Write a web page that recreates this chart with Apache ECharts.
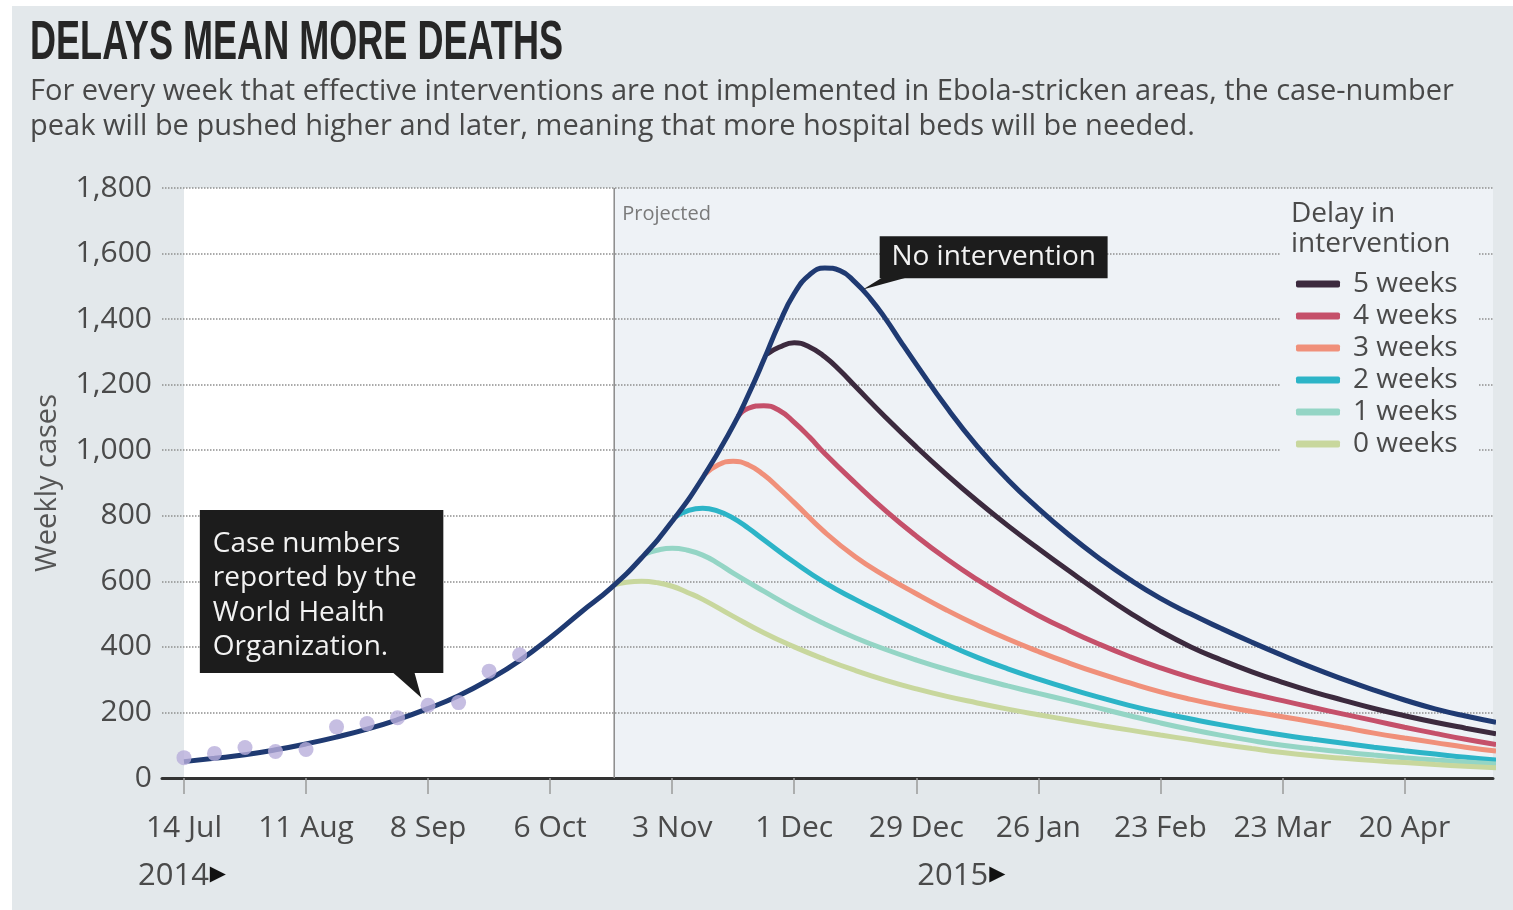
<!DOCTYPE html>
<html>
<head>
<meta charset="utf-8">
<title>Delays mean more deaths</title>
<script src="https://cdn.jsdelivr.net/npm/echarts@6.0.0/dist/echarts.min.js"></script>
<style>
  html, body { margin: 0; padding: 0; background: #fff; }
  #frame { position: absolute; left: 12px; top: 6px; right: 0; bottom: 0; background: #e3e8eb; }
  #chart { position: absolute; left: 0; top: 0; width: 1513px; height: 910px; }
</style>
</head>
<body>
<div id="frame"></div>
<div id="chart"></div>
<script>
// weeks counted from 14 Jul 2014
const labelWeeks = [0, 4, 8, 12, 16, 20, 24, 28, 32, 36, 40]
const weekLabels = ['14 Jul', '11 Aug', '8 Sep', '6 Oct', '3 Nov', '1 Dec', '29 Dec', '26 Jan', '23 Feb', '23 Mar', '20 Apr']

// WHO reported weekly cases
const whoWeeks = [0, 1, 2, 3, 4, 5, 6, 7, 8, 9, 10, 11]
const whoCases = [62, 75, 93, 81, 87, 156, 166, 184, 222, 230, 326, 376]

// week positions from a given week up to the end of the chart
function weeksFrom(w) {
  const out = []
  for (let i = w; i <= 43; i++) out.push(i)
  return out
}

// model, no intervention (read every week, every half week around the peak)
const noInterventionWeeks = [0, 1, 2, 3, 4, 5, 6, 7, 8, 9, 10, 11, 12, 13, 14, 15, 16, 17,
  18, 18.5, 19, 19.5, 20, 20.5, 21, 21.5, 22, 22.5, 23, 23.5].concat(weeksFrom(24))
const noIntervention = [50, 60, 71, 86, 104, 125, 149, 178, 212, 251, 300, 358, 428, 505, 580, 672, 783, 916,
  1075, 1170, 1275, 1385, 1478, 1535, 1556, 1548, 1512, 1462, 1400, 1330,
  1262, 1130, 1012, 910, 822, 742, 670, 605, 548, 500, 456, 414, 374, 336, 301, 268, 238, 211, 189, 170]

// delays in intervention: each curve starts where it leaves the no-intervention line
// (half weeks around the peak, whole weeks after)
const delayNames = ['5 weeks', '4 weeks', '3 weeks', '2 weeks', '1 weeks', '0 weeks']
const delay5Weeks = [19.1, 19.5, 20, 20.5, 21, 21.5].concat(weeksFrom(22))
const delay5 = [1293, 1314, 1328, 1315, 1285, 1243, 1195, 1100, 1010, 925, 845, 770, 700, 632, 566, 504,
  448, 400, 360, 324, 292, 263, 237, 212, 190, 170, 152, 135]
const delay4Weeks = [18.15, 18.5, 19, 19.5, 20, 20.5].concat(weeksFrom(21))
const delay4 = [1103, 1128, 1136, 1122, 1085, 1040, 990, 900, 815, 738, 668, 605, 548, 496, 450, 408, 370,
  336, 306, 280, 257, 236, 215, 195, 175, 155, 136, 118, 102]
const delay3Weeks = [17.05, 17.5, 18, 18.5, 19, 19.5].concat(weeksFrom(20))
const delay3 = [925, 955, 966, 955, 925, 884, 840, 750, 675, 615, 562, 512, 466, 424, 386, 351, 319, 290,
  263, 240, 220, 203, 187, 171, 154, 137, 122, 108, 94, 82]
const delay2Weeks = [16.1, 16.5, 17, 17.5, 18, 18.5].concat(weeksFrom(19))
const delay2 = [796, 815, 823, 814, 793, 762, 727, 658, 596, 545, 498, 452, 408, 368, 333, 302, 273, 246,
  221, 199, 180, 162, 146, 131, 118, 106, 94, 83, 73, 63, 55]
const delay1Weeks = [15.1, 15.5, 16, 16.5, 17, 17.5].concat(weeksFrom(18))
const delay1 = [683, 695, 701, 695, 680, 655, 625, 570, 517, 470, 428, 392, 360, 331, 305, 281, 258, 236,
  213, 190, 168, 148, 130, 114, 100, 89, 79, 70, 62, 55, 49, 43]
const delay0Weeks = [14.1, 14.5, 15, 15.5, 16, 16.5].concat(weeksFrom(17))
const delay0 = [589, 597, 600, 596, 585, 566, 545, 493, 443, 400, 362, 328, 298, 272, 249, 229, 210, 193,
  177, 161, 146, 131, 117, 103, 90, 78, 68, 60, 53, 47, 41, 36, 31]
const delayWeeks = [delay5Weeks, delay4Weeks, delay3Weeks, delay2Weeks, delay1Weeks, delay0Weeks]
const delayValues = [delay5, delay4, delay3, delay2, delay1, delay0]
const delayColors = ['#3c2a3e', '#c5506a', '#f0907a', '#2cb4c7', '#94d5c5', '#c8d79d']

const projectedFrom = 14.1
const font = 'Open Sans'
const grey = '#4a4a4a'

const chart = echarts.init(document.getElementById('chart'))

const series = delayNames.map((name, i) => ({
  name: name,
  type: 'line',
  smooth: 0.5,
  symbol: 'none',
  z: 2,
  lineStyle: { width: 5, color: delayColors[i] },
  itemStyle: { color: delayColors[i] },
  data: delayValues[i].map((v, j) => [delayWeeks[i][j], v])
}))
series.push({
  name: 'No intervention',
  type: 'line',
  smooth: 0.5,
  symbol: 'none',
  z: 3,
  lineStyle: { width: 5, color: '#1f3a72' },
  data: noIntervention.map((v, j) => [noInterventionWeeks[j], v])
})
series.push({
  name: 'WHO',
  type: 'scatter',
  symbolSize: 15,
  z: 4,
  itemStyle: { color: '#b8aedb' },
  data: whoCases.map((v, j) => [whoWeeks[j], v])
})

const option = {
  animation: false,
  title: {
    text: 'For every week that effective interventions are not implemented in Ebola-stricken areas, the case-number\npeak will be pushed higher and later, meaning that more hospital beds will be needed.',
    left: 30,
    top: 74,
    padding: 0,
    textStyle: { fontFamily: font, fontWeight: 'normal', fontSize: 29, lineHeight: 35, color: '#484848' }
  },
  legend: {
    data: delayNames,
    orient: 'vertical',
    left: 1296,
    top: 270,
    padding: 0,
    itemWidth: 44,
    itemHeight: 7,
    itemGap: 4,
    icon: 'roundRect',
    textStyle: { fontFamily: font, fontSize: 28, lineHeight: 28, color: grey, padding: [0, 0, 0, 8] }
  },
  grid: { left: 162, right: 20, top: 188, bottom: 132 },
  xAxis: {
    type: 'value',
    min: -0.72,
    max: 42.9,
    splitLine: { show: false },
    axisLine: { show: true, onZero: false, lineStyle: { color: '#333', width: 3 } },
    axisTick: { show: true, customValues: labelWeeks, length: 16, lineStyle: { color: '#9a9a9a', width: 1.5 } },
    axisLabel: {
      customValues: labelWeeks,
      formatter: v => weekLabels[labelWeeks.indexOf(v)],
      margin: 35,
      fontFamily: font,
      fontSize: 30,
      color: grey
    }
  },
  yAxis: {
    type: 'value',
    min: 0,
    max: 1800,
    interval: 200,
    name: 'Weekly cases',
    nameLocation: 'middle',
    nameGap: 100,
    nameRotate: 90,
    nameTextStyle: { fontFamily: font, fontSize: 29, color: '#555' },
    axisLine: { show: false },
    axisTick: { show: false },
    axisLabel: {
      margin: 10,
      fontFamily: font,
      fontSize: 30,
      color: grey,
      formatter: v => v.toLocaleString('en-US')
    },
    splitLine: { lineStyle: { type: 'dotted', color: '#8f8f8f', width: 1.5 } }
  },
  series: series
}
chart.setOption(option)

// annotations, placed from data coordinates
function px(x, y) {
  return chart.convertToPixel({ gridIndex: 0 }, [x, y])
}
const tl = px(0, 1800)
const br = px(projectedFrom, 0)
const end = px(42.9, 0)
const axisY = br[1]

const boxNo = [px(22.8, 1653), px(30.27, 1525)]
const tipNo = px(22.25, 1490)
const boxWho = [px(0.52, 818), px(8.5, 320)]
const tipWho = px(7.78, 245)

// condensed headline: squeeze a bold face to the headline width
const titleText = 'DELAYS MEAN MORE DEATHS'
const titleFont = "bold 56px 'Liberation Sans', sans-serif"
const ctx = document.createElement('canvas').getContext('2d')
ctx.font = titleFont
const titleScale = 533 / ctx.measureText(titleText).width

const yearRich = {
  a: { fontFamily: font, fontSize: 31, fill: grey },
  b: { fontFamily: 'DejaVu Sans', fontSize: 21, fill: '#111', padding: [0, 0, 2, 1] }
}

const graphic = [
  {
    type: 'text', z: 5, x: 30, y: 44, scaleX: titleScale,
    style: { text: titleText, font: titleFont, fill: '#262626', verticalAlign: 'middle' }
  },
  {
    type: 'rect', z: -10,
    shape: { x: tl[0], y: tl[1], width: br[0] - tl[0], height: axisY - tl[1] },
    style: { fill: '#ffffff' }
  },
  {
    type: 'rect', z: -10,
    shape: { x: br[0], y: tl[1], width: end[0] - br[0], height: axisY - tl[1] },
    style: { fill: '#eef2f6' }
  },
  {
    type: 'line', z: 1,
    shape: { x1: br[0], y1: tl[1], x2: br[0], y2: axisY },
    style: { stroke: '#8a8a8a', lineWidth: 1.5 }
  },
  {
    type: 'text', z: 5, x: br[0] + 8, y: tl[1] + 26,
    style: { text: 'Projected', font: '20px ' + font, fill: '#7a7a7a', verticalAlign: 'middle' }
  },
  // legend backdrop
  {
    type: 'rect', z: 1,
    shape: { x: 1281, y: 196, width: 198, height: 266 },
    style: { fill: '#eef2f6' }
  },
  {
    type: 'text', z: 5, x: 1291, y: 199,
    style: { text: 'Delay in\nintervention', font: '28px ' + font, lineHeight: 30, fill: grey }
  },
  // No intervention callout
  {
    type: 'polygon', z: 6,
    shape: { points: [[boxNo[0][0] + 3, boxNo[1][1] - 1], [boxNo[0][0] + 28, boxNo[1][1] - 1], tipNo] },
    style: { fill: '#1c1c1c' }
  },
  {
    type: 'rect', z: 6,
    shape: { x: boxNo[0][0], y: boxNo[0][1], width: boxNo[1][0] - boxNo[0][0], height: boxNo[1][1] - boxNo[0][1] },
    style: { fill: '#1c1c1c' }
  },
  {
    type: 'text', z: 7, x: (boxNo[0][0] + boxNo[1][0]) / 2, y: (boxNo[0][1] + boxNo[1][1]) / 2,
    style: { text: 'No intervention', font: '28px ' + font, fill: '#f2f2f2', align: 'center', verticalAlign: 'middle' }
  },
  // WHO callout
  {
    type: 'polygon', z: 6,
    shape: { points: [[boxWho[1][0] - 51, boxWho[1][1] - 1], [boxWho[1][0] - 29, boxWho[1][1] - 1], tipWho] },
    style: { fill: '#1c1c1c' }
  },
  {
    type: 'rect', z: 6,
    shape: { x: boxWho[0][0], y: boxWho[0][1], width: boxWho[1][0] - boxWho[0][0], height: boxWho[1][1] - boxWho[0][1] },
    style: { fill: '#1c1c1c' }
  },
  {
    type: 'text', z: 7, x: boxWho[0][0] + 13, y: (boxWho[0][1] + boxWho[1][1]) / 2 + 4,
    style: {
      text: 'Case numbers\nreported by the\nWorld Health\nOrganization.',
      font: '28px ' + font, lineHeight: 34.5, fill: '#f2f2f2', verticalAlign: 'middle'
    }
  },
  // year markers under the axis
  {
    type: 'text', z: 5, x: px(0, 0)[0] - 46, y: axisY + 98,
    style: { text: '{a|2014}{b|▶}', rich: yearRich, verticalAlign: 'middle' }
  },
  {
    type: 'text', z: 5, x: px(24, 0)[0] + 1, y: axisY + 98,
    style: { text: '{a|2015}{b|▶}', rich: yearRich, verticalAlign: 'middle' }
  }
]
chart.setOption({ graphic: graphic })
</script>
</body>
</html>
